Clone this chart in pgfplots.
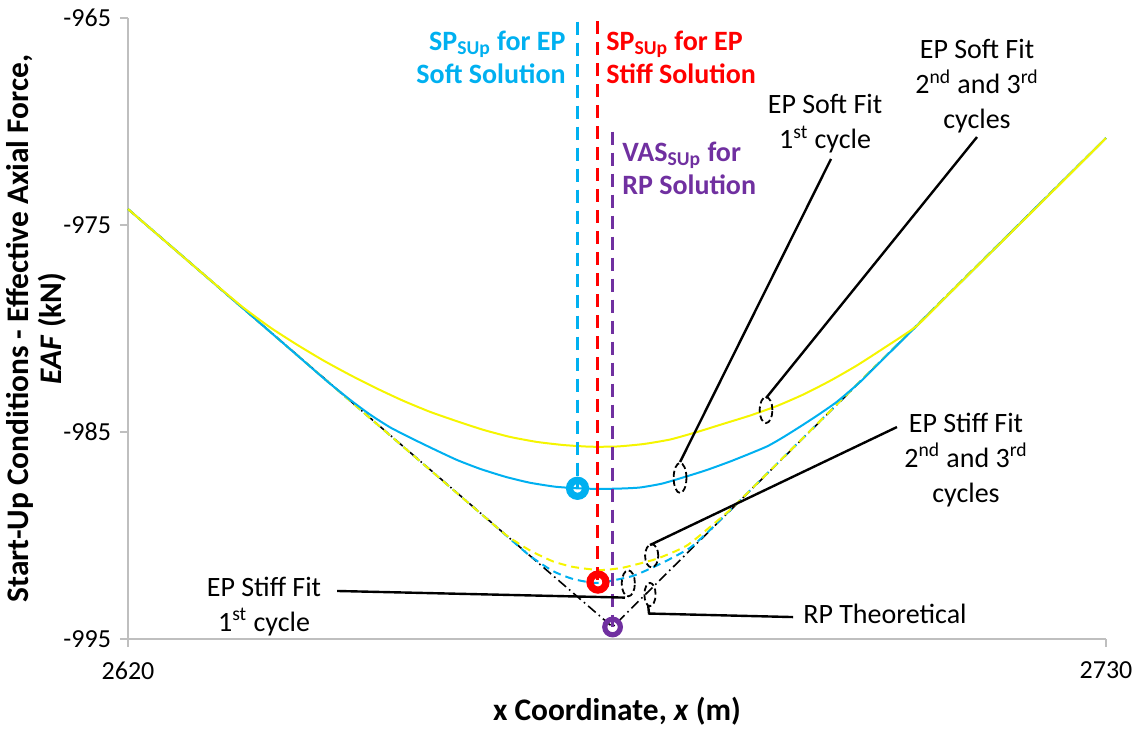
\documentclass[border=0pt]{standalone}
\usepackage{fontspec}
\setmainfont{Carlito}
\usepackage{pgfplots}
\pgfplotsset{compat=1.18}

\definecolor{softblue}{RGB}{0,176,240}
\definecolor{fitred}{RGB}{255,0,0}
\definecolor{rppurple}{RGB}{112,48,160}
\definecolor{fityellow}{RGB}{245,245,0}
\definecolor{axisgrey}{RGB}{191,191,191}

\tikzset{
  callout/.style={black, line width=1.2pt},
  calloutring/.style={black, line width=0.9pt, dash pattern=on 3pt off 1.6pt},
  note/.style={font=\fontsize{14}{17.5}\selectfont, align=center, inner sep=0pt},
}

\begin{document}
\begin{tikzpicture}
\path[use as bounding box] (-64pt,-45pt) rectangle (505pt,319.5pt);
\begin{axis}[
  at={(0,0)}, anchor=south west,
  scale only axis, width=489pt, height=310.5pt,
  xmin=2620, xmax=2730, ymin=-995, ymax=-965,
  axis x line*=bottom, axis y line*=left,
  axis line style={draw=axisgrey, line width=0.8pt},
  xtick={2620,2730}, ytick={-995,-985,-975,-965},
  tick align=outside, major tick length=4pt,
  tick style={draw=axisgrey, line width=0.8pt},
  /pgf/number format/assume math mode=true,
  /pgf/number format/set thousands separator={},
  tick label style={font=\fontsize{13}{15}\selectfont},
  xticklabel style={font=\fontsize{13}{15}\selectfont, yshift=-4pt},
  yticklabel style={font=\fontsize{13}{15}\selectfont, xshift=-1pt},
  xlabel={x Coordinate, \textit{x} (m)},
  ylabel={Start-Up Conditions - Effective Axial Force,\\ \textit{EAF} (kN)},
  label style={font=\bfseries\fontsize{15.7}{16.5}\selectfont},
  xlabel style={at={(axis description cs:0.5,-0.116)}, anchor=center},
  ylabel style={at={(axis description cs:-0.094,0.5)}, anchor=center, align=center},
  clip=false,
]

% RP theoretical solution
\addplot[black, line width=0.8pt, dash pattern=on 5pt off 2pt on 0.8pt off 2pt]
  coordinates {(2620,-974.23) (2674.5,-994.42) (2730,-970.8)};

% EP stiff fit, 1st cycle
\addplot[softblue, line width=1pt, dash pattern=on 4pt off 2.5pt, smooth, tension=0.35]
  coordinates {
  (2620,-974.23) (2640,-981.65) (2655,-987.21) (2662,-989.80) (2665.2,-990.98)
  (2667.8,-991.72) (2670.05,-992.10) (2672.8,-992.29) (2676.8,-991.95)
  (2680.2,-991.30) (2683.2,-990.60) (2685.5,-989.72) (2688,-988.66)
  (2700,-983.55) (2730,-970.8)};

% EP stiff fit, 2nd and 3rd cycles
\addplot[fityellow, line width=1pt, dash pattern=on 4pt off 2.5pt, smooth, tension=0.35]
  coordinates {
  (2620,-974.23) (2640,-981.65) (2655,-987.21) (2660,-989.06) (2662.6,-990.00)
  (2665.2,-990.72) (2667.8,-991.25) (2670.1,-991.52) (2673.1,-991.67)
  (2675.7,-991.55) (2679.5,-991.12) (2682.8,-990.50) (2685.7,-989.50)
  (2688.5,-988.44) (2700,-983.55) (2730,-970.8)};

% EP soft fit, 1st cycle
\addplot[softblue, line width=1pt, smooth, tension=0.35]
  coordinates {
  (2620,-974.23) (2630,-977.94) (2638,-980.91) (2642.4,-982.55) (2645,-983.45)
  (2647.2,-984.15) (2649.5,-984.78) (2652.1,-985.35) (2654.5,-985.85)
  (2657,-986.35) (2659.6,-986.78) (2662.5,-987.17) (2665.2,-987.45)
  (2668,-987.64) (2670.5,-987.72) (2673,-987.75) (2675.5,-987.73)
  (2677.6,-987.68) (2680,-987.50) (2682.1,-987.24) (2685,-986.85)
  (2688,-986.38) (2691.8,-985.71) (2693.7,-985.25) (2695.6,-984.74)
  (2697.6,-984.18) (2699.7,-983.55) (2702.3,-982.60) (2705,-981.45)
  (2715,-977.20) (2730,-970.8)};

% EP soft fit, 2nd and 3rd cycles
\addplot[fityellow, line width=1pt, smooth, tension=0.35]
  coordinates {
  (2620,-974.23) (2626,-976.46) (2630,-977.93) (2633,-979.00) (2636,-979.95)
  (2639,-980.78) (2642,-981.55) (2645,-982.25) (2648,-982.90)
  (2651,-983.50) (2654,-984.03) (2657,-984.48) (2660,-984.90)
  (2663,-985.24) (2666,-985.48) (2669,-985.63) (2672,-985.71)
  (2675,-985.70) (2678,-985.58) (2681,-985.36) (2684,-985.00)
  (2687,-984.60) (2690,-984.20) (2693,-983.74) (2696,-983.18)
  (2699,-982.52) (2702,-981.78) (2705,-980.95) (2708.7,-979.88)
  (2712,-978.48) (2716,-976.78) (2720,-975.08) (2725,-972.95) (2730,-970.8)};

% start-up positions
\addplot[softblue, line width=1.5pt, dash pattern=on 6.5pt off 4pt]
  coordinates {(2670.56,-965.18) (2670.56,-987.72)};
\addplot[fitred, line width=1.5pt, dash pattern=on 6.5pt off 4pt]
  coordinates {(2672.86,-965.15) (2672.86,-992.25)};
\addplot[rppurple, line width=1.5pt, dash pattern=on 6.5pt off 4pt]
  coordinates {(2674.5,-970.49) (2674.5,-994.42)};

\addplot[only marks, mark=o, mark size=4pt, mark options={draw=softblue, line width=3.6pt}]
  coordinates {(2670.56,-987.72)};
\addplot[only marks, mark=o, mark size=4pt, mark options={draw=fitred, line width=3.6pt}]
  coordinates {(2672.86,-992.25)};
\addplot[only marks, mark=o, mark size=3.9pt, mark options={draw=rppurple, line width=2.6pt}]
  coordinates {(2674.5,-994.42)};

% solution labels
\node[font=\bfseries\fontsize{14}{16.5}\selectfont, text=softblue, align=right, anchor=east, inner sep=0pt]
  at (axis cs:2669.26,-966.88) {SP\textsubscript{SUp} for EP\\Soft Solution};
\node[font=\bfseries\fontsize{14}{16.5}\selectfont, text=fitred, align=left, anchor=west, inner sep=0pt]
  at (axis cs:2673.76,-966.88) {SP\textsubscript{SUp} for EP\\Stiff Solution};
\node[font=\bfseries\fontsize{14}{16.5}\selectfont, text=rppurple, align=left, anchor=west, inner sep=0pt]
  at (axis cs:2675.56,-972.25) {VAS\textsubscript{SUp} for\\RP Solution};

% callouts
\node[note] at (axis cs:2698.4,-970.12) {EP Soft Fit\\1\textsuperscript{st} cycle};
\draw[callout] (axis cs:2699.07,-971.81) -- (axis cs:2682.09,-986.45);
\draw[calloutring] (axis cs:2682.09,-987.22) ellipse [x radius=3.2pt, y radius=7.5pt];

\node[note] at (axis cs:2715.49,-968.29) {EP Soft Fit\\2\textsuperscript{nd} and 3\textsuperscript{rd}\\cycles};
\draw[callout] (axis cs:2715.49,-970.75) -- (axis cs:2691.76,-983.36);
\draw[calloutring] (axis cs:2691.76,-983.94) ellipse [x radius=3.2pt, y radius=6.5pt];

\node[note] at (axis cs:2714.25,-986.35) {EP Stiff Fit\\2\textsuperscript{nd} and 3\textsuperscript{rd}\\cycles};
\draw[callout] (axis cs:2706.49,-984.76) -- (axis cs:2678.71,-990.46);
\draw[calloutring] (axis cs:2678.90,-990.98) ellipse [x radius=3.3pt, y radius=5.8pt];

\node[note] at (axis cs:2635.30,-993.41) {EP Stiff Fit\\1\textsuperscript{st} cycle};
\draw[callout] (axis cs:2643.51,-992.68) -- (axis cs:2675.9,-993.0);
\draw[calloutring] (axis cs:2676.27,-992.31) ellipse [x radius=3.3pt, y radius=6.5pt];

\node[note] at (axis cs:2705.14,-993.79) {RP Theoretical};
\draw[callout] (axis cs:2694.80,-993.94) -- (axis cs:2678.6,-993.77) -- (axis cs:2678.5,-993.36);
\draw[calloutring] (axis cs:2678.71,-992.85) ellipse [x radius=2.8pt, y radius=5.8pt];

\end{axis}
\end{tikzpicture}
\end{document}
